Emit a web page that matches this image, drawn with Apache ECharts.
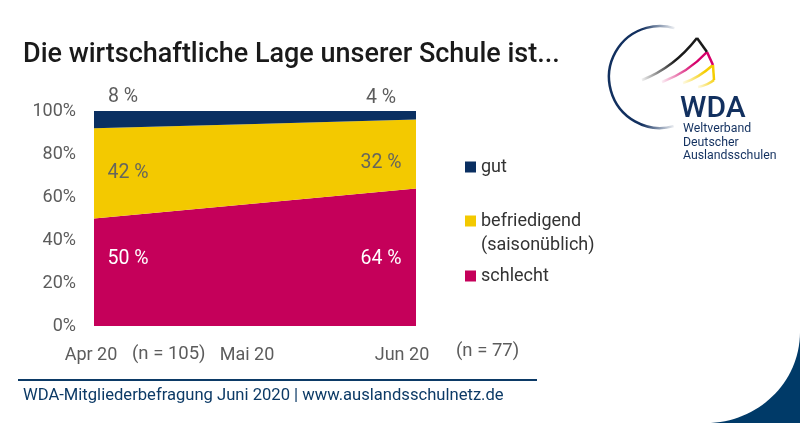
<!DOCTYPE html>
<html>
<head>
<meta charset="utf-8">
<style>html,body{margin:0;padding:0;background:#fff}#mainCanvas{width:800px;height:423px}</style>
<script src="https://cdn.jsdelivr.net/npm/echarts@6/dist/echarts.min.js"></script>
</head>
<body>
<div id="mainCanvas"></div>
<script>
var months = ['Apr 20', 'Mai 20', 'Jun 20'];
var schlecht = [50, 57, 64];
var befriedigend = [42, 37, 32];
var gut = [8, 6, 4];
var yTicks = [0, 20, 40, 60, 80, 100];

var navy = '#0a2f61', yellow = '#f3c900', magenta = '#c5005a', grey = '#5c5c5c';
var font = 'Roboto';

var myChart = echarts.init(document.getElementById('mainCanvas'));

// label on first and last point only, month in between stays empty
function points(values, color, offsetFirst, offsetLast) {
    return values.map(function (v, i) {
        if (i === 1) return v;
        return {
            value: v,
            label: {
                show: true,
                position: 'inside',
                offset: i === 0 ? offsetFirst : offsetLast,
                color: color,
                fontFamily: font,
                fontSize: 19.5,
                formatter: v + ' %'
            }
        };
    });
}

function areaSeries(name, values, color, labelColor, offsetFirst, offsetLast) {
    return {
        name: name,
        type: 'line',
        stack: 'all',
        data: points(values, labelColor, offsetFirst, offsetLast),
        symbol: 'circle',
        symbolSize: 0,
        showAllSymbol: true,
        silent: true,
        itemStyle: {color: color},
        lineStyle: {width: 0},
        areaStyle: {color: color, opacity: 1}
    };
}

function legendItem(name, top) {
    return {
        data: [{name: name, icon: 'rect'}],
        left: 460,
        top: top,
        itemWidth: 11,
        itemHeight: 11,
        itemGap: 0,
        selectedMode: false,
        textStyle: {color: '#333', fontFamily: font, fontSize: 18}
    };
}

function logoLine(shape, type, colors) {
    return {
        type: type,
        shape: shape,
        silent: true,
        style: {
            fill: null,
            lineWidth: 2.5,
            stroke: new echarts.graphic.LinearGradient(0, 0, 1, 0, colors)
        }
    };
}

var option = {
    animation: false,
    title: {
        text: 'Die wirtschaftliche Lage unserer Schule ist...',
        left: 18,
        top: 37,
        textStyle: {color: '#1a1a1a', fontFamily: font, fontWeight: 500, fontSize: 27}
    },
    grid: {left: 94, right: 384, top: 111, bottom: 97},
    legend: [legendItem('gut', 153), legendItem('befriedigend', 207), legendItem('schlecht', 262)],
    xAxis: {
        type: 'category',
        data: months,
        boundaryGap: false,
        axisLine: {show: false},
        axisTick: {show: false},
        axisLabel: {
            interval: 0,
            margin: 20,
            color: grey,
            fontFamily: font,
            fontSize: 18,
            formatter: function (v, i) {
                return '{m' + i + '|' + v + '}';
            },
            rich: {
                m0: {color: grey, fontFamily: font, fontSize: 18, padding: [0, 6, 0, 0]},
                m1: {color: grey, fontFamily: font, fontSize: 18, padding: [0, 16, 0, 0]},
                m2: {color: grey, fontFamily: font, fontSize: 18, padding: [0, 28, 0, 0]}
            }
        }
    },
    yAxis: {
        type: 'value',
        min: yTicks[0],
        max: yTicks[yTicks.length - 1],
        interval: yTicks[1] - yTicks[0],
        axisLine: {show: false},
        axisTick: {show: false},
        splitLine: {show: false},
        axisLabel: {margin: 18, color: grey, fontFamily: font, fontSize: 18, padding: [3, 0, 0, 0], formatter: '{value}%'}
    },
    series: [
        areaSeries('schlecht', schlecht, magenta, '#fff', [34, 41], [-35, 71]),
        areaSeries('befriedigend', befriedigend, yellow, '#66665c', [34, 45], [-35, 44]),
        areaSeries('gut', gut, navy, grey, [29, -14], [-35, -13])
    ],
    graphic: [
        {type: 'text', silent: true, style: {x: 481, y: 236, text: '(saisonüblich)', fill: '#333', font: '18px ' + font}},
        {type: 'text', silent: true, style: {x: 132, y: 345, text: '(n = 105)', fill: grey, font: '18.5px ' + font}},
        {type: 'text', silent: true, style: {x: 456, y: 342, text: '(n = 77)', fill: grey, font: '18.5px ' + font}},
        // footer
        {type: 'line', silent: true, shape: {x1: 18, y1: 380, x2: 537, y2: 380}, style: {stroke: '#0c3a66', lineWidth: 2}},
        {type: 'text', silent: true, style: {x: 23, y: 387, text: 'WDA-Mitgliederbefragung Juni 2020 | www.auslandsschulnetz.de', fill: '#0c3a66', font: '16.6px ' + font}},
        // corner: navy box with a white ellipse over it
        {type: 'rect', silent: true, shape: {x: 706, y: 332, width: 94, height: 91}, style: {fill: '#003a68'}},
        {type: 'ellipse', silent: true, shape: {cx: 706, cy: 332, rx: 94, ry: 91}, style: {fill: '#fff'}},
        // logo
        logoLine({cx: 660, cy: 77, r: 51, startAngle: 1.3, endAngle: 5.0, clockwise: true}, 'arc', [
            {offset: 0, color: '#12305f'}, {offset: 0.5, color: '#12305f'}, {offset: 1, color: 'rgba(18,48,95,0)'}
        ]),
        logoLine({x1: 642, y1: 80, x2: 697, y2: 38, cpx1: 665, cpy1: 71, cpx2: 683, cpy2: 56}, 'bezierCurve', [
            {offset: 0, color: 'rgba(20,20,20,0)'}, {offset: 0.6, color: '#1a1a1a'}, {offset: 1, color: '#1a1a1a'}
        ]),
        logoLine({x1: 662, y1: 82, x2: 707, y2: 52, cpx1: 678, cpy1: 76, cpx2: 694, cpy2: 66}, 'bezierCurve', [
            {offset: 0, color: 'rgba(210,0,100,0)'}, {offset: 0.7, color: '#d6006a'}, {offset: 1, color: '#d6006a'}
        ]),
        logoLine({x1: 683, y1: 83, x2: 713, y2: 65, cpx1: 693, cpy1: 80, cpx2: 704, cpy2: 73}, 'bezierCurve', [
            {offset: 0, color: 'rgba(245,205,0,0)'}, {offset: 0.7, color: '#f5cd00'}, {offset: 1, color: '#f5cd00'}
        ]),
        {type: 'line', silent: true, shape: {x1: 697, y1: 38, x2: 707, y2: 52}, style: {stroke: '#1a1a1a', lineWidth: 2.5}},
        {type: 'line', silent: true, shape: {x1: 707, y1: 52, x2: 713, y2: 65}, style: {stroke: '#d6006a', lineWidth: 2.5}},
        {type: 'line', silent: true, shape: {x1: 713, y1: 65, x2: 714, y2: 80}, style: {stroke: '#f5cd00', lineWidth: 2.5}},
        logoLine({x1: 698, y1: 87, x2: 714, y2: 80, cpx1: 703, cpy1: 86, cpx2: 709, cpy2: 84}, 'bezierCurve', [
            {offset: 0, color: 'rgba(245,205,0,0)'}, {offset: 1, color: '#f5cd00'}
        ]),
        {type: 'text', silent: true, style: {x: 680, y: 94, text: 'WDA', fill: '#12305f', font: '500 30px ' + font}},
        {type: 'text', silent: true, style: {x: 683, y: 123, text: 'Weltverband', fill: '#12305f', font: '12.3px ' + font}},
        {type: 'text', silent: true, style: {x: 683, y: 136.5, text: 'Deutscher', fill: '#12305f', font: '12.3px ' + font}},
        {type: 'text', silent: true, style: {x: 683, y: 150, text: 'Auslandsschulen', fill: '#12305f', font: '12.3px ' + font}}
    ]
};

myChart.setOption(option);
</script>
</body>
</html>
